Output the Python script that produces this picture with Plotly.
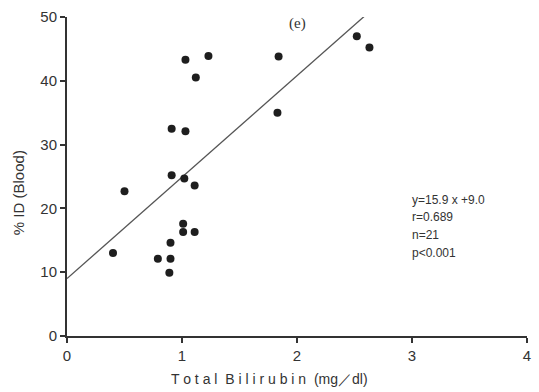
import plotly.graph_objects as go

# Data
bilirubin = [1.03, 1.23, 1.12, 0.91, 1.03, 0.91, 1.02, 1.11, 0.50, 1.84, 2.52,
             2.63, 1.83, 0.40, 0.79, 0.90, 0.90, 0.89, 1.01, 1.01, 1.11]
id_blood = [43.3, 43.9, 40.5, 32.5, 32.1, 25.2, 24.7, 23.6, 22.7, 43.8, 47.0,
            45.2, 35.0, 13.0, 12.1, 14.6, 12.1, 9.9, 17.6, 16.3, 16.3]
slope, intercept = 15.9, 9.0
fit_x = [0.0, 2.6]
fit_y = [intercept + slope * v for v in fit_x]
x_ticks = [0, 1, 2, 3, 4]
y_ticks = [0, 10, 20, 30, 40, 50]
stats_lines = ["y=15.9 x +9.0", "r=0.689", "n=21", "p<0.001"]
stats_y = [21.3, 18.6, 15.8, 13.0]

fig = go.Figure()
fig.add_trace(go.Scatter(x=fit_x, y=fit_y, mode="lines",
                         line=dict(color="#555555", width=1.3),
                         showlegend=False, hoverinfo="skip", cliponaxis=True))
fig.add_trace(go.Scatter(x=bilirubin, y=id_blood, mode="markers",
                         marker=dict(color="#1e1e1e", size=8),
                         showlegend=False, cliponaxis=False))

axis_common = dict(showgrid=False, zeroline=False, showline=True,
                   linecolor="#333333", linewidth=2, ticks="outside",
                   ticklen=5, tickwidth=1.5, tickcolor="#333333",
                   tickfont=dict(family="Liberation Sans, Arial", size=15, color="#333333"))
fig.update_xaxes(range=[0, 4], tickvals=x_ticks, **axis_common)
fig.update_yaxes(range=[0, 50], tickvals=y_ticks, **axis_common)

fig.add_annotation(text="(e)", x=0.5, y=1.0, xref="x domain", yref="y domain",
                   xanchor="center", yanchor="top", yshift=4, showarrow=False,
                   font=dict(family="Liberation Serif, Times New Roman", size=15, color="#333333"))
for txt, yy in zip(stats_lines, stats_y):
    fig.add_annotation(text=txt, x=2.98, y=yy, xref="x", yref="y",
                       xanchor="left", yanchor="middle", showarrow=False,
                       font=dict(family="Liberation Sans Narrow, Liberation Sans", size=12, color="#333333"))
fig.add_annotation(text="% ID (Blood)", x=-0.105, y=0.45, xref="x domain", yref="y domain",
                   textangle=-90, showarrow=False, xanchor="center", yanchor="middle",
                   font=dict(family="Liberation Sans, Arial", size=15, color="#333333"))
fig.add_annotation(text="T o t a l  B i l i r u b i n  (mg／dl)", x=0.44, y=-0.105,
                   xref="x domain", yref="y domain", xanchor="center", yanchor="top",
                   showarrow=False,
                   font=dict(family="Liberation Sans, Arial", size=14, color="#333333"))

fig.update_layout(width=539, height=392, margin=dict(l=67, r=8, t=16, b=56),
                  plot_bgcolor="white", paper_bgcolor="white")
fig.write_html("out.html")
